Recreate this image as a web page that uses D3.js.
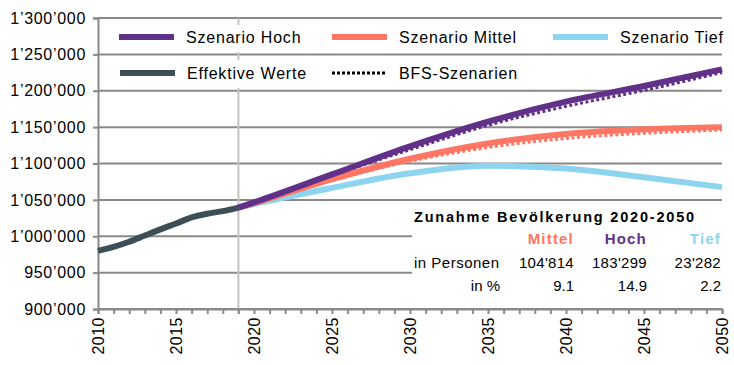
<!DOCTYPE html>
<html>
<head>
<meta charset="utf-8">
<script src="https://cdn.jsdelivr.net/npm/d3@7"></script>
<style>
  body { margin: 0; background: #fff; }
  text { font-family: "Liberation Sans", Arial, sans-serif; }
</style>
</head>
<body>
<div id="chart"></div>
<script>
// data
var effYears = [2010, 2011, 2012, 2013, 2014, 2015, 2016, 2017, 2018, 2019];
var effValues = [980000, 985500, 992500, 1001000, 1009500, 1017500, 1026000, 1031000, 1034500, 1039300];

var scenYears = [2019, 2020, 2025, 2030, 2035, 2040, 2045, 2050];
var hoch = [1039300, 1046500, 1085000, 1123500, 1157500, 1185000, 1206500, 1229500];
var mittel = [1039300, 1045500, 1078500, 1106500, 1127500, 1140500, 1147000, 1150000];
var tief = [1039300, 1044300, 1066500, 1086500, 1096800, 1093000, 1081000, 1067500];
var bfsHoch = [1039300, 1046000, 1083500, 1119000, 1152500, 1178500, 1200500, 1225000];
var bfsMittel = [1039300, 1045000, 1076500, 1103000, 1122000, 1134500, 1141500, 1146000];

var yTicks = [900000, 950000, 1000000, 1050000, 1100000, 1150000, 1200000, 1250000, 1300000];
var xLabels = [2010, 2015, 2020, 2025, 2030, 2035, 2040, 2045, 2050];

var tableTitle = "Zunahme Bevölkerung 2020-2050";
var tableHeads = ["Mittel", "Hoch", "Tief"];
var tablePersons = ["104'814", "183'299", "23'282"];
var tablePercent = ["9.1", "14.9", "2.2"];

var colors = {hoch: "#613089", mittel: "#ff7664", tief: "#8dd5ee", eff: "#3c4f57"};

// dimensions
var margin = {top: 18, right: 12, bottom: 56, left: 98},
    width = 734 - margin.left - margin.right,
    height = 365 - margin.top - margin.bottom;

var svg = d3.select("#chart")
  .append("svg")
    .attr("width", 734)
    .attr("height", 365)
  .append("g")
    .attr("transform", "translate(" + margin.left + "," + margin.top + ")");

var x = d3.scaleLinear().domain([2010, 2050]).range([0, width]);
var y = d3.scaleLinear().domain([900000, 1300000]).range([height, 0]);

var fmt = function (v) { return d3.format(",")(v).replace(/,/g, "\u2019"); };

// gridlines
svg.append("g")
  .selectAll("line")
  .data(yTicks)
  .enter()
  .append("line")
    .attr("x1", 0).attr("x2", width)
    .attr("y1", function (d) { return y(d); })
    .attr("y2", function (d) { return y(d); })
    .style("stroke", "#898989")
    .style("stroke-width", 2);

// 2019 marker line
svg.append("line")
  .attr("x1", x(2019)).attr("x2", x(2019))
  .attr("y1", 0).attr("y2", height + 5)
  .style("stroke", "#c3c3c3")
  .style("stroke-width", 2);

// Y axis
var yAxis = svg.append("g")
  .call(d3.axisLeft(y).tickValues(yTicks).tickFormat(fmt).tickSize(5).tickPadding(7));
yAxis.select(".domain").style("stroke", "#898989").style("stroke-width", 2);
yAxis.selectAll(".tick line").style("stroke", "#898989").style("stroke-width", 2);
yAxis.selectAll("text").style("font-size", "16px").style("fill", "#000")
  .style("letter-spacing", "0.7px")
  .style("font-family", "Liberation Sans, Arial, sans-serif");

// X axis
var xAxis = svg.append("g")
  .attr("transform", "translate(0," + height + ")")
  .call(d3.axisBottom(x).tickValues(d3.range(2010, 2051)).tickSize(5)
    .tickFormat(function (d) { return xLabels.indexOf(d) >= 0 ? d : ""; }));
xAxis.select(".domain").style("stroke", "#898989").style("stroke-width", 2);
xAxis.selectAll(".tick line").style("stroke", "#898989").style("stroke-width", 2);
xAxis.selectAll("text")
  .attr("transform", "rotate(-90)")
  .attr("x", -8).attr("y", 0).attr("dy", "0.36em")
  .style("text-anchor", "end")
  .style("font-size", "16px").style("fill", "#000")
  .style("letter-spacing", "0.5px")
  .style("font-family", "Liberation Sans, Arial, sans-serif");

// legend backgrounds + table background
svg.append("rect").attr("x", 185 - 98).attr("y", 25 - 18).attr("width", 125).attr("height", 27).style("fill", "#fff");
svg.append("rect").attr("x", 185 - 98).attr("y", 60 - 18).attr("width", 127).attr("height", 28).style("fill", "#fff");
svg.append("rect").attr("x", 412 - 98).attr("y", 203 - 18).attr("width", 722 - 412).attr("height", 105).style("fill", "#fff");

// lines
var line = d3.line()
  .x(function (d) { return x(d[0]); })
  .y(function (d) { return y(d[1]); })
  .curve(d3.curveMonotoneX);

function draw(years, vals, color, w, dash) {
  svg.append("path")
    .datum(d3.zip(years, vals))
    .attr("d", line)
    .style("fill", "none")
    .style("stroke", color)
    .style("stroke-width", w)
    .style("stroke-dasharray", dash || null);
}

draw(scenYears, tief, colors.tief, 6);
draw(scenYears, mittel, colors.mittel, 6);
draw(scenYears, bfsMittel, colors.mittel, 3, "3,2.5");
draw(scenYears, hoch, colors.hoch, 6);
draw(scenYears, bfsHoch, colors.hoch, 3, "3,2.5");
draw(effYears, effValues, colors.eff, 6);

// legend
var legend = [
  {name: "Szenario Hoch", color: colors.hoch, lx: 119, ly: 37},
  {name: "Szenario Mittel", color: colors.mittel, lx: 332, ly: 37},
  {name: "Szenario Tief", color: colors.tief, lx: 553, ly: 37},
  {name: "Effektive Werte", color: colors.eff, lx: 120, ly: 73},
  {name: "BFS-Szenarien", color: "#000", lx: 332, ly: 73, dash: true}
];
var lg = d3.select("svg").append("g");
legend.forEach(function (d) {
  lg.append("line")
    .attr("x1", d.lx).attr("x2", d.lx + 55)
    .attr("y1", d.ly).attr("y2", d.ly)
    .style("stroke", d.color)
    .style("stroke-width", d.dash ? 3 : 6)
    .style("stroke-dasharray", d.dash ? "3,2" : null);
  lg.append("text")
    .attr("x", d.lx + 67).attr("y", d.ly + 6)
    .style("font-size", "16px")
    .style("letter-spacing", "0.8px")
    .text(d.name);
});

// table
var tb = d3.select("svg").append("g");
tb.append("text").attr("x", 414).attr("y", 222)
  .style("font-size", "14.5px").style("font-weight", "bold").style("letter-spacing", "1.8px")
  .text(tableTitle);
var colX = [574, 647, 721];
var headColors = [colors.mittel, colors.hoch, colors.tief];
tableHeads.forEach(function (h, i) {
  tb.append("text").attr("x", colX[i]).attr("y", 244)
    .style("text-anchor", "end").style("font-size", "15px").style("font-weight", "bold")
    .style("letter-spacing", "1.2px").style("fill", headColors[i]).text(h);
  tb.append("text").attr("x", colX[i]).attr("y", 268)
    .style("text-anchor", "end").style("font-size", "15px").style("letter-spacing", "0.3px")
    .text(tablePersons[i]);
  tb.append("text").attr("x", colX[i]).attr("y", 291)
    .style("text-anchor", "end").style("font-size", "15px").text(tablePercent[i]);
});
tb.append("text").attr("x", 414).attr("y", 268).style("font-size", "15px")
  .style("letter-spacing", "0.5px").text("in Personen");
tb.append("text").attr("x", 500).attr("y", 291).style("text-anchor", "end")
  .style("font-size", "15px").text("in %");
</script>
</body>
</html>
